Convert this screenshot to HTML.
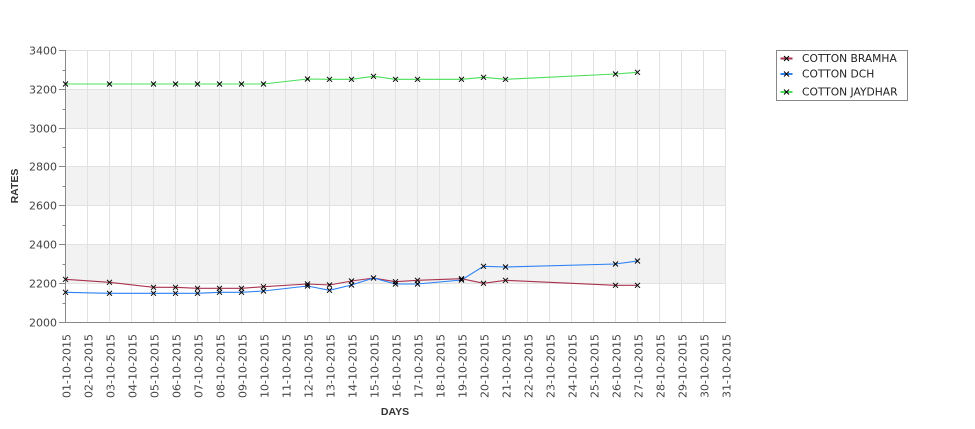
<!DOCTYPE html>
<html><head><meta charset="utf-8"><style>
html,body{margin:0;padding:0;background:#fff;}
svg{display:block;}
.t{font-family:"DejaVu Sans","Liberation Sans",sans-serif;font-size:11px;fill:#444;}
.lg{font-family:"DejaVu Sans","Liberation Sans",sans-serif;font-size:10.7px;fill:#222;}
.ax{font-family:"Liberation Sans","DejaVu Sans",sans-serif;font-size:10.5px;font-weight:bold;fill:#333;}
</style></head><body>
<svg width="975" height="429" viewBox="0 0 975 429" xmlns="http://www.w3.org/2000/svg">
<defs>
<marker id="mx" markerUnits="userSpaceOnUse" markerWidth="8" markerHeight="8" refX="4" refY="4" viewBox="0 0 8 8" overflow="visible">
<path d="M1.5 1.5L6.5 6.5M1.5 6.5L6.5 1.5" stroke="#000" stroke-width="1" fill="none"/>
</marker>
</defs>
<rect x="0" y="0" width="975" height="429" fill="#fff"/>
<!-- bands -->
<rect x="65.5" y="89.5" width="660" height="39" fill="#f2f2f2"/>
<rect x="65.5" y="166.5" width="660" height="39" fill="#f2f2f2"/>
<rect x="65.5" y="244.5" width="660" height="39" fill="#f2f2f2"/>
<!-- grid -->
<path stroke="#e2e2e2" stroke-width="1" fill="none" d="M87.5 50V322M109.5 50V322M131.5 50V322M153.5 50V322M175.5 50V322M197.5 50V322M219.5 50V322M241.5 50V322M263.5 50V322M285.5 50V322M307.5 50V322M329.5 50V322M351.5 50V322M373.5 50V322M395.5 50V322M417.5 50V322M439.5 50V322M461.5 50V322M483.5 50V322M505.5 50V322M527.5 50V322M549.5 50V322M571.5 50V322M593.5 50V322M615.5 50V322M637.5 50V322M659.5 50V322M681.5 50V322M703.5 50V322M725.5 50V322M66 50.5H726M66 89.5H726M66 128.5H726M66 166.5H726M66 205.5H726M66 244.5H726M66 283.5H726"/>
<!-- axes -->
<path stroke="#888" stroke-width="1" fill="none" d="M65.5 50V323M65 322.5H726M59 50.5H65M59 89.5H65M59 128.5H65M59 166.5H65M59 205.5H65M59 244.5H65M59 283.5H65M59 322.5H65M62.5 70.5H65M62.5 109.5H65M62.5 147.5H65M62.5 186.5H65M62.5 225.5H65M62.5 264.5H65M62.5 303.5H65"/>
<!-- y labels -->
<text class="t" x="57" y="54.5" text-anchor="end">3400</text>
<text class="t" x="57" y="93.5" text-anchor="end">3200</text>
<text class="t" x="57" y="132.5" text-anchor="end">3000</text>
<text class="t" x="57" y="170.5" text-anchor="end">2800</text>
<text class="t" x="57" y="209.5" text-anchor="end">2600</text>
<text class="t" x="57" y="248.5" text-anchor="end">2400</text>
<text class="t" x="57" y="287.5" text-anchor="end">2200</text>
<text class="t" x="57" y="326.5" text-anchor="end">2000</text>
<!-- x labels -->
<g class="t" text-anchor="end">
<text transform="translate(70.5,334) rotate(-90)">01-10-2015</text>
<text transform="translate(92.5,334) rotate(-90)">02-10-2015</text>
<text transform="translate(114.5,334) rotate(-90)">03-10-2015</text>
<text transform="translate(136.5,334) rotate(-90)">04-10-2015</text>
<text transform="translate(158.5,334) rotate(-90)">05-10-2015</text>
<text transform="translate(180.5,334) rotate(-90)">06-10-2015</text>
<text transform="translate(202.5,334) rotate(-90)">07-10-2015</text>
<text transform="translate(224.5,334) rotate(-90)">08-10-2015</text>
<text transform="translate(246.5,334) rotate(-90)">09-10-2015</text>
<text transform="translate(268.5,334) rotate(-90)">10-10-2015</text>
<text transform="translate(290.5,334) rotate(-90)">11-10-2015</text>
<text transform="translate(312.5,334) rotate(-90)">12-10-2015</text>
<text transform="translate(334.5,334) rotate(-90)">13-10-2015</text>
<text transform="translate(356.5,334) rotate(-90)">14-10-2015</text>
<text transform="translate(378.5,334) rotate(-90)">15-10-2015</text>
<text transform="translate(400.5,334) rotate(-90)">16-10-2015</text>
<text transform="translate(422.5,334) rotate(-90)">17-10-2015</text>
<text transform="translate(444.5,334) rotate(-90)">18-10-2015</text>
<text transform="translate(466.5,334) rotate(-90)">19-10-2015</text>
<text transform="translate(488.5,334) rotate(-90)">20-10-2015</text>
<text transform="translate(510.5,334) rotate(-90)">21-10-2015</text>
<text transform="translate(532.5,334) rotate(-90)">22-10-2015</text>
<text transform="translate(554.5,334) rotate(-90)">23-10-2015</text>
<text transform="translate(576.5,334) rotate(-90)">24-10-2015</text>
<text transform="translate(598.5,334) rotate(-90)">25-10-2015</text>
<text transform="translate(620.5,334) rotate(-90)">26-10-2015</text>
<text transform="translate(642.5,334) rotate(-90)">27-10-2015</text>
<text transform="translate(664.5,334) rotate(-90)">28-10-2015</text>
<text transform="translate(686.5,334) rotate(-90)">29-10-2015</text>
<text transform="translate(708.5,334) rotate(-90)">30-10-2015</text>
<text transform="translate(730.5,334) rotate(-90)">31-10-2015</text>
</g>
<!-- series lines -->
<polyline fill="none" stroke="#a8324f" stroke-width="1.1" points="65.5,279.3 109.5,282.3 153.5,287.3 175.5,287.3 197.5,288.3 219.5,288.3 241.5,288.3 263.5,286.7 307.5,284 329.5,285 351.5,281 373.5,278 395.5,281.7 417.5,280.3 461.5,278.7 483.5,283.3 505.5,280.3 615.5,285.3 637.5,285.3"/>
<polyline fill="none" stroke="#2a80f4" stroke-width="1.1" points="65.5,292.3 109.5,293.3 153.5,293.3 175.5,293.3 197.5,293.3 219.5,292.3 241.5,292.3 263.5,291 307.5,286 329.5,290.3 351.5,285 373.5,278 395.5,284 417.5,284 461.5,280 483.5,266.3 505.5,267 615.5,264 637.5,261"/>
<polyline fill="none" stroke="#48e058" stroke-width="1.1" points="65.5,84 109.5,84 153.5,84 175.5,84 197.5,84 219.5,84 241.5,84 263.5,84 307.5,79 329.5,79.3 351.5,79.3 373.5,76.3 395.5,79.3 417.5,79.3 461.5,79.3 483.5,77.3 505.5,79.3 615.5,74 637.5,72.3"/>
<!-- markers -->
<g fill="none" stroke="#000" stroke-width="1">
<path d="M63 276.8l5 5m0-5l-5 5M107 279.8l5 5m0-5l-5 5M151 284.8l5 5m0-5l-5 5M173 284.8l5 5m0-5l-5 5M195 285.8l5 5m0-5l-5 5M217 285.8l5 5m0-5l-5 5M239 285.8l5 5m0-5l-5 5M261 284.2l5 5m0-5l-5 5M305 281.5l5 5m0-5l-5 5M327 282.5l5 5m0-5l-5 5M349 278.5l5 5m0-5l-5 5M371 275.5l5 5m0-5l-5 5M393 279.2l5 5m0-5l-5 5M415 277.8l5 5m0-5l-5 5M459 276.2l5 5m0-5l-5 5M481 280.8l5 5m0-5l-5 5M503 277.8l5 5m0-5l-5 5M613 282.8l5 5m0-5l-5 5M635 282.8l5 5m0-5l-5 5"/>
<path d="M63 289.8l5 5m0-5l-5 5M107 290.8l5 5m0-5l-5 5M151 290.8l5 5m0-5l-5 5M173 290.8l5 5m0-5l-5 5M195 290.8l5 5m0-5l-5 5M217 289.8l5 5m0-5l-5 5M239 289.8l5 5m0-5l-5 5M261 288.5l5 5m0-5l-5 5M305 283.5l5 5m0-5l-5 5M327 287.8l5 5m0-5l-5 5M349 282.5l5 5m0-5l-5 5M393 281.5l5 5m0-5l-5 5M415 281.5l5 5m0-5l-5 5M459 277.5l5 5m0-5l-5 5M481 263.8l5 5m0-5l-5 5M503 264.5l5 5m0-5l-5 5M613 261.5l5 5m0-5l-5 5M635 258.5l5 5m0-5l-5 5"/>
<path d="M63 81.5l5 5m0-5l-5 5M107 81.5l5 5m0-5l-5 5M151 81.5l5 5m0-5l-5 5M173 81.5l5 5m0-5l-5 5M195 81.5l5 5m0-5l-5 5M217 81.5l5 5m0-5l-5 5M239 81.5l5 5m0-5l-5 5M261 81.5l5 5m0-5l-5 5M305 76.5l5 5m0-5l-5 5M327 76.8l5 5m0-5l-5 5M349 76.8l5 5m0-5l-5 5M371 73.8l5 5m0-5l-5 5M393 76.8l5 5m0-5l-5 5M415 76.8l5 5m0-5l-5 5M459 76.8l5 5m0-5l-5 5M481 74.8l5 5m0-5l-5 5M503 76.8l5 5m0-5l-5 5M613 71.5l5 5m0-5l-5 5M635 69.8l5 5m0-5l-5 5"/>
</g>
<text class="ax" transform="translate(18,186) rotate(-90)" text-anchor="middle">RATES</text>
<text class="ax" x="395" y="415" text-anchor="middle">DAYS</text>
<!-- legend -->
<rect x="776.5" y="50.5" width="131" height="50" fill="#fff" stroke="#888" stroke-width="1"/>
<line x1="780.5" y1="58.5" x2="792.5" y2="58.5" stroke="#a8324f" stroke-width="2"/>
<line x1="780.5" y1="74" x2="792.5" y2="74" stroke="#2a80f4" stroke-width="2"/>
<line x1="780.5" y1="92" x2="792.5" y2="92" stroke="#48e058" stroke-width="2"/>
<path fill="none" stroke="#000" stroke-width="1" d="M784 56l5 5m0-5l-5 5M784 71.5l5 5m0-5l-5 5M784 89.5l5 5m0-5l-5 5"/>
<text class="lg" x="802" y="62">COTTON BRAMHA</text>
<text class="lg" x="802" y="77.5">COTTON DCH</text>
<text class="lg" x="802" y="95.5">COTTON JAYDHAR</text>
</svg>
</body></html>
